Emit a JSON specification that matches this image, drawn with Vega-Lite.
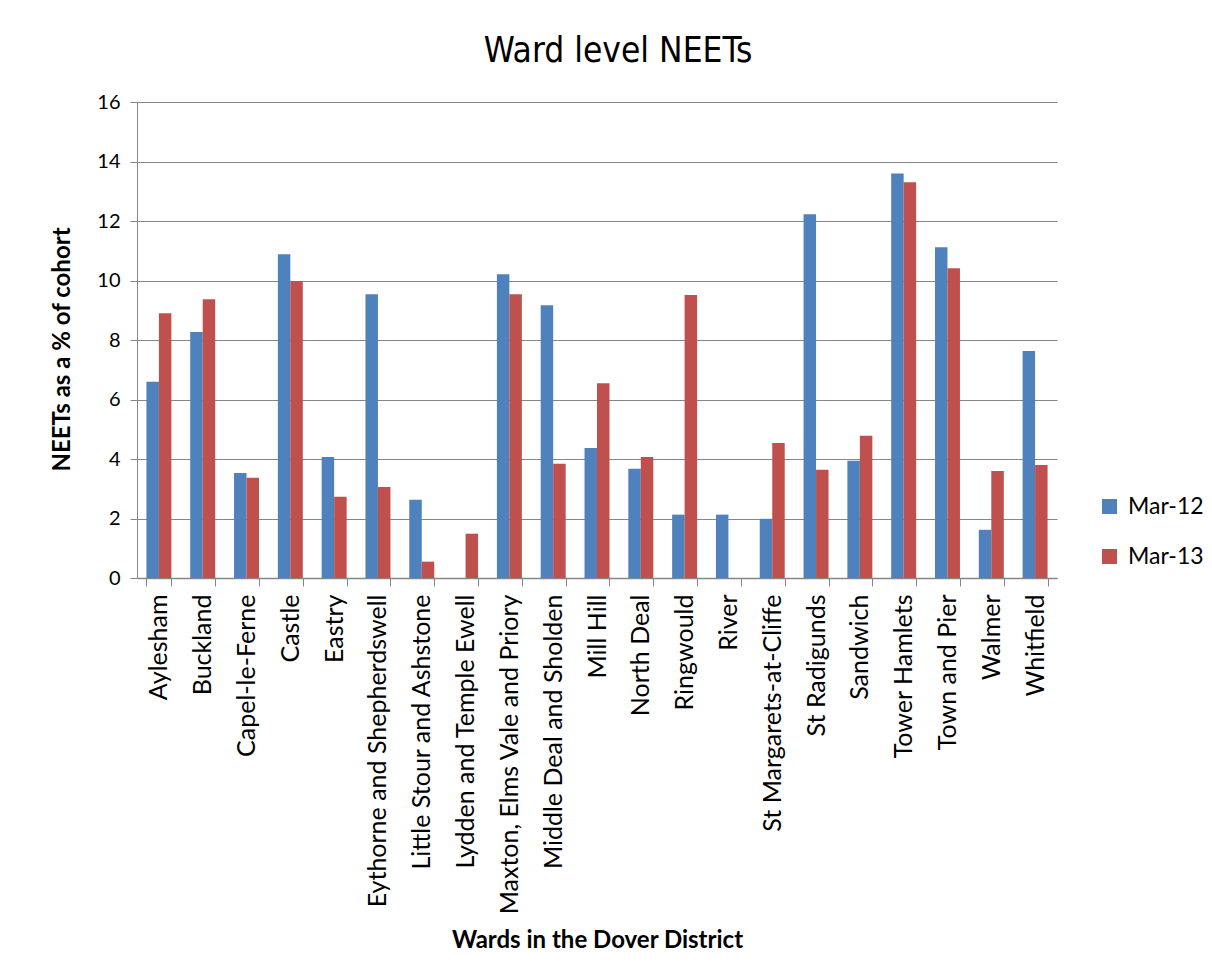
{
  "$schema": "https://vega.github.io/schema/vega-lite/v6.json",
  "autosize": "none",
  "width": 920,
  "height": 476,
  "padding": {"left": 137, "top": 102, "right": 155, "bottom": 400},
  "background": "white",
  "title": {
    "text": "Ward level NEETs",
    "font": "Liberation Sans Narrow, DejaVu Sans Condensed, sans-serif",
    "fontSize": 35,
    "fontWeight": "normal",
    "color": "black",
    "anchor": "middle",
    "dx": 21,
    "offset": 23
  },
  "data": {
    "values": [
      {"ward": "Aylesham", "period": "Mar-12", "value": 6.6},
      {"ward": "Aylesham", "period": "Mar-13", "value": 8.9},
      {"ward": "Buckland", "period": "Mar-12", "value": 8.27},
      {"ward": "Buckland", "period": "Mar-13", "value": 9.37},
      {"ward": "Capel-le-Ferne", "period": "Mar-12", "value": 3.53},
      {"ward": "Capel-le-Ferne", "period": "Mar-13", "value": 3.37},
      {"ward": "Castle", "period": "Mar-12", "value": 10.88},
      {"ward": "Castle", "period": "Mar-13", "value": 9.98},
      {"ward": "Eastry", "period": "Mar-12", "value": 4.07},
      {"ward": "Eastry", "period": "Mar-13", "value": 2.73},
      {"ward": "Eythorne and Shepherdswell", "period": "Mar-12", "value": 9.54},
      {"ward": "Eythorne and Shepherdswell", "period": "Mar-13", "value": 3.06},
      {"ward": "Little Stour and Ashstone", "period": "Mar-12", "value": 2.63},
      {"ward": "Little Stour and Ashstone", "period": "Mar-13", "value": 0.55},
      {"ward": "Lydden and Temple Ewell", "period": "Mar-12", "value": 0},
      {"ward": "Lydden and Temple Ewell", "period": "Mar-13", "value": 1.49},
      {"ward": "Maxton, Elms Vale and Priory", "period": "Mar-12", "value": 10.21},
      {"ward": "Maxton, Elms Vale and Priory", "period": "Mar-13", "value": 9.54},
      {"ward": "Middle Deal and Sholden", "period": "Mar-12", "value": 9.17},
      {"ward": "Middle Deal and Sholden", "period": "Mar-13", "value": 3.84},
      {"ward": "Mill Hill", "period": "Mar-12", "value": 4.37},
      {"ward": "Mill Hill", "period": "Mar-13", "value": 6.55},
      {"ward": "North Deal", "period": "Mar-12", "value": 3.67},
      {"ward": "North Deal", "period": "Mar-13", "value": 4.07},
      {"ward": "Ringwould", "period": "Mar-12", "value": 2.13},
      {"ward": "Ringwould", "period": "Mar-13", "value": 9.51},
      {"ward": "River", "period": "Mar-12", "value": 2.13},
      {"ward": "River", "period": "Mar-13", "value": 0},
      {"ward": "St Margarets-at-Cliffe", "period": "Mar-12", "value": 1.99},
      {"ward": "St Margarets-at-Cliffe", "period": "Mar-13", "value": 4.54},
      {"ward": "St Radigunds", "period": "Mar-12", "value": 12.23},
      {"ward": "St Radigunds", "period": "Mar-13", "value": 3.64},
      {"ward": "Sandwich", "period": "Mar-12", "value": 3.94},
      {"ward": "Sandwich", "period": "Mar-13", "value": 4.78},
      {"ward": "Tower Hamlets", "period": "Mar-12", "value": 13.6},
      {"ward": "Tower Hamlets", "period": "Mar-13", "value": 13.3},
      {"ward": "Town and Pier", "period": "Mar-12", "value": 11.12},
      {"ward": "Town and Pier", "period": "Mar-13", "value": 10.41},
      {"ward": "Walmer", "period": "Mar-12", "value": 1.62},
      {"ward": "Walmer", "period": "Mar-13", "value": 3.6},
      {"ward": "Whitfield", "period": "Mar-12", "value": 7.63},
      {"ward": "Whitfield", "period": "Mar-13", "value": 3.8}
    ]
  },
  "mark": {"type": "bar"},
  "encoding": {
    "x": {
      "field": "ward",
      "type": "nominal",
      "sort": null,
      "scale": {"paddingInner": 0.43, "paddingOuter": 0.215},
      "axis": {
        "title": "Wards in the Dover District",
        "titleFont": "Lato",
        "titleFontSize": 24,
        "titleFontWeight": "bold",
        "titleColor": "black",
        "titleY": 362,
        "titleBaseline": "middle",
        "labelAngle": -90,
        "labelFont": "Lato",
        "labelFontSize": 25,
        "labelColor": "black",
        "labelPadding": 8,
        "labelLimit": 400,
        "tickBand": "extent",
        "tickSize": 8,
        "tickColor": "#868686",
        "domainColor": "#868686",
        "domainWidth": 1.5,
        "grid": false
      }
    },
    "y": {
      "field": "value",
      "type": "quantitative",
      "scale": {"domain": [0, 16], "nice": false},
      "axis": {
        "title": "NEETs as a % of cohort",
        "titleFont": "Lato",
        "titleFontSize": 24,
        "titleFontWeight": "bold",
        "titleColor": "black",
        "titleX": -75,
        "titleY": 247,
        "titleAngle": -90,
        "titleAlign": "center",
        "titleBaseline": "middle",
        "values": [0, 2, 4, 6, 8, 10, 12, 14, 16],
        "labelFont": "Lato",
        "labelFontSize": 20,
        "labelColor": "black",
        "labelPadding": 10,
        "tickSize": 7,
        "tickColor": "#868686",
        "domainColor": "#868686",
        "gridColor": "#868686",
        "gridWidth": 1.2
      }
    },
    "xOffset": {"field": "period", "type": "nominal"},
    "color": {
      "field": "period",
      "type": "nominal",
      "scale": {"domain": ["Mar-12", "Mar-13"], "range": ["#4F81BD", "#C0504D"]},
      "legend": {
        "title": null,
        "orient": "none",
        "legendX": 961,
        "legendY": 393,
        "symbolType": "square",
        "symbolSize": 225,
        "symbolStrokeWidth": 0,
        "labelFont": "Lato",
        "labelFontSize": 23,
        "labelColor": "black",
        "labelOffset": 7,
        "rowPadding": 26
      }
    }
  },
  "config": {
    "view": {"stroke": null}
  }
}
